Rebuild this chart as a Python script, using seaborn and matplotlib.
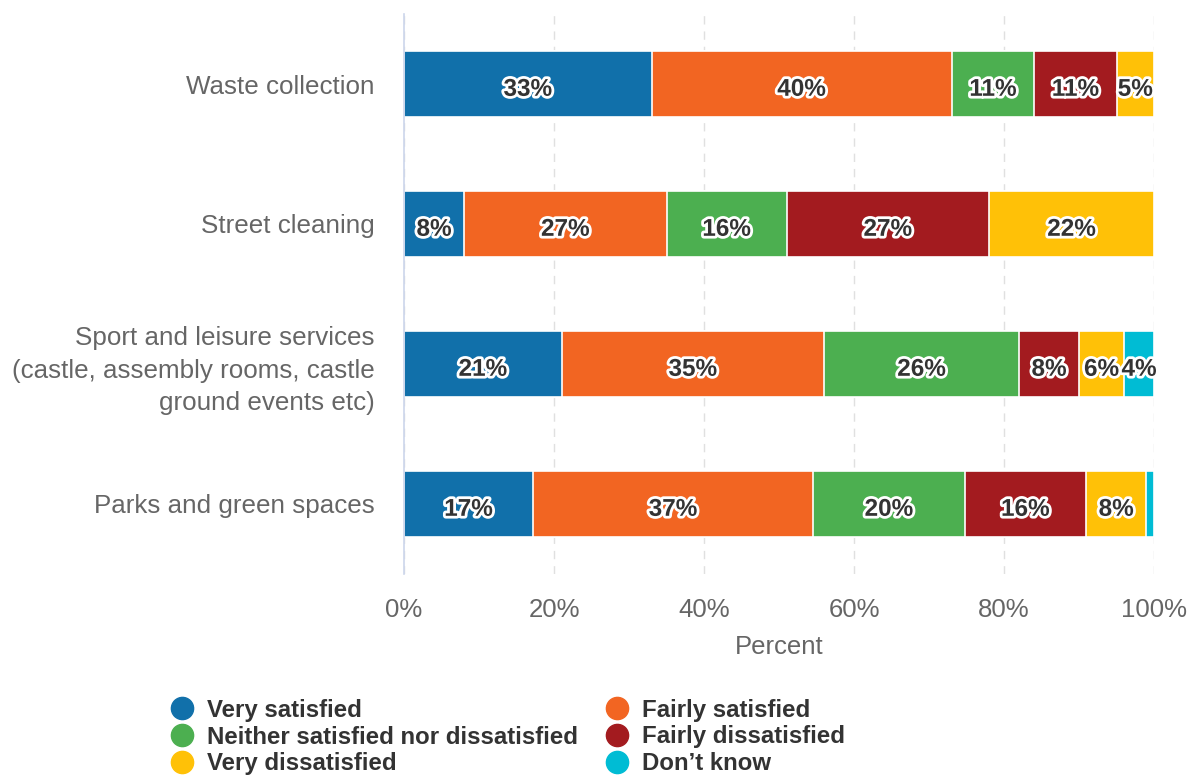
import numpy as np
import pandas as pd
import seaborn as sns
import matplotlib
matplotlib.use("Agg")
import matplotlib.pyplot as plt
import matplotlib.patheffects as pe
from matplotlib.lines import Line2D
from matplotlib.ticker import FuncFormatter

# Survey responses per service (raw percentages as reported)
services = [
    "Waste collection",
    "Street cleaning",
    "Sport and leisure services\n(castle, assembly rooms, castle\nground events etc)",
    "Parks and green spaces",
]
responses = [
    "Very satisfied",
    "Fairly satisfied",
    "Neither satisfied nor dissatisfied",
    "Fairly dissatisfied",
    "Very dissatisfied",
    "Don\u2019t know",
]
very_satisfied = [33, 8, 21, 17]
fairly_satisfied = [40, 27, 35, 37]
neither = [11, 16, 26, 20]
fairly_dissatisfied = [11, 27, 8, 16]
very_dissatisfied = [5, 22, 6, 8]
dont_know = [0, 0, 4, 1]

colors = ["#1170aa", "#f26522", "#4caf50", "#a31b1f", "#ffc107", "#00bcd4"]

sns.set_theme(style="white")
plt.rcParams["font.family"] = ["Liberation Sans", "DejaVu Sans"]

raw = np.array([very_satisfied, fairly_satisfied, neither,
                fairly_dissatisfied, very_dissatisfied, dont_know], dtype=float).T
# Percent stacking: each bar is scaled to its own total
share = raw / raw.sum(axis=1, keepdims=True) * 100
cum = np.cumsum(share, axis=1)

fig = plt.figure(figsize=(11.9, 7.78), dpi=100)
ax = fig.add_axes([404 / 1190, 1 - 574 / 778, 750 / 1190, 560 / 778])

# Stacked bars: draw cumulative totals from the outermost segment inwards
for j in range(len(responses) - 1, -1, -1):
    df = pd.DataFrame({"service": services, "value": cum[:, j]})
    sns.barplot(data=df, x="value", y="service", orient="h", color=colors[j],
                saturation=1, width=0.47, edgecolor="white", linewidth=1.2,
                ax=ax)

# Segment value labels
for i in range(len(services)):
    for j in range(len(responses)):
        if raw[i, j] < 2:
            continue
        xc = cum[i, j] - share[i, j] / 2
        ax.text(xc, i + 0.02, f"{raw[i, j]:.0f}%", ha="center",
                va="center_baseline", fontsize=17.5, fontweight="bold",
                color="#333333",
                path_effects=[pe.withStroke(linewidth=4, foreground="white")],
                zorder=5)

ax.set_xlim(0, 100)
ax.set_ylim(len(services) - 0.5, -0.5)
ax.set_xticks([0, 20, 40, 60, 80, 100])
ax.xaxis.set_major_formatter(FuncFormatter(lambda v, p: f"{v:.0f}%"))
ax.set_axisbelow(True)
ax.grid(axis="x", color="#e0e0e0", linestyle=(0, (6, 5)), linewidth=1)
ax.grid(axis="y", visible=False)

for side in ["top", "right", "bottom"]:
    ax.spines[side].set_visible(False)
ax.spines["left"].set_color("#ccd6eb")
ax.spines["left"].set_linewidth(1.2)

ax.tick_params(axis="x", length=0, pad=17, labelsize=18.5, labelcolor="#666666")
ax.tick_params(axis="y", length=0, pad=21, labelsize=18.7, labelcolor="#666666")
for lab in ax.get_yticklabels():
    lab.set_linespacing(1.45)

ax.set_ylabel("")
ax.set_xlabel("Percent", fontsize=18.5, color="#666666", labelpad=10)

# Legend in two columns
def handle(c):
    return Line2D([0], [0], marker="o", linestyle="none", markersize=16,
                  markerfacecolor=c, markeredgecolor=c)

legend_kw = dict(frameon=False, loc="center left", borderpad=0, borderaxespad=0,
                 handlelength=1.0, handletextpad=0.56, labelspacing=0.16,
                 prop={"size": 17.3, "weight": "bold"}, labelcolor="#333333")
left_idx = [0, 2, 4]
right_idx = [1, 3, 5]
leg1 = fig.legend([handle(colors[k]) for k in left_idx],
                  [responses[k] for k in left_idx],
                  bbox_to_anchor=(170 / 1190, 1 - 737 / 778), **legend_kw)
leg2 = fig.legend([handle(colors[k]) for k in right_idx],
                  [responses[k] for k in right_idx],
                  bbox_to_anchor=(605 / 1190, 1 - 737 / 778), **legend_kw)

fig.savefig("out.png", dpi=100, facecolor="white")
